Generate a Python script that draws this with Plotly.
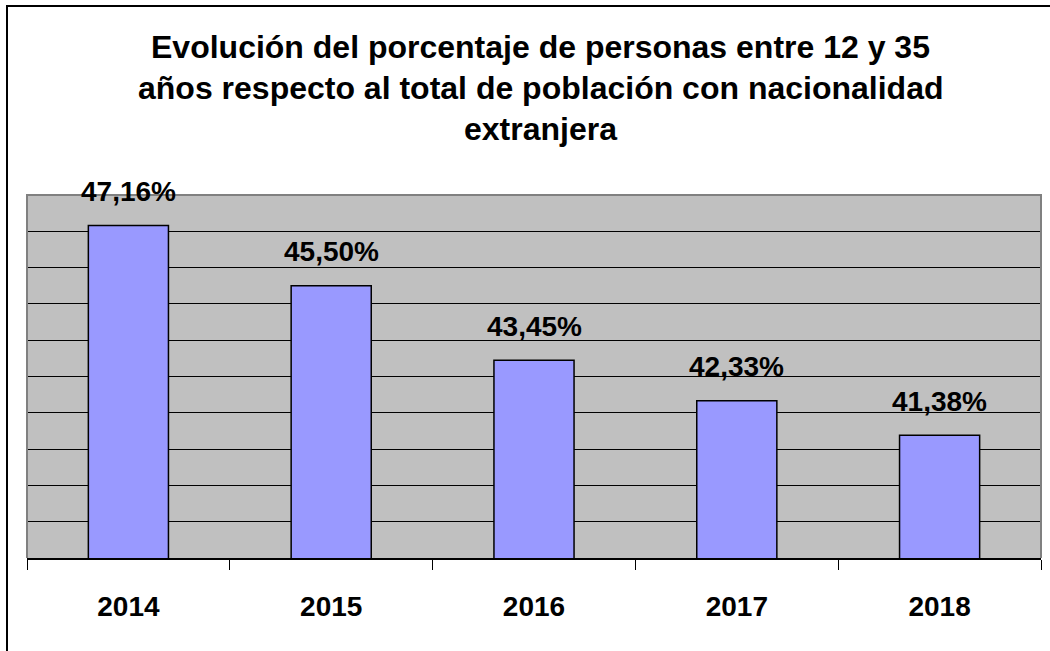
import plotly.graph_objects as go

years = ["2014", "2015", "2016", "2017", "2018"]
values = [47.16, 45.50, 43.45, 42.33, 41.38]
labels = ["47,16%", "45,50%", "43,45%", "42,33%", "41,38%"]
title_lines = [
    "Evolución del porcentaje de personas entre 12 y 35",
    "años respecto al total de población con nacionalidad",
    "extranjera",
]

W, H = 1050, 651
L, R, T, B = 27, 1041, 195, 558  # plot area pixel box
FONT = "Liberation Sans, Arial, sans-serif"


def px_x(px):
    return (px - L) / (R - L)


def px_y(py):
    return (B - py) / (B - T)


fig = go.Figure()
fig.add_trace(go.Bar(
    x=years, y=values, width=0.395,
    marker=dict(color="#9999FF", line=dict(color="#000000", width=1.5)),
    hoverinfo="skip",
))

for i, (v, lab) in enumerate(zip(values, labels)):
    fig.add_annotation(x=i, y=v, xref="x", yref="y", text=lab, showarrow=False,
                       yanchor="middle", yshift=34,
                       font=dict(family=FONT, size=28, color="#000", weight="bold"))

for i, line in enumerate(title_lines):
    fig.add_annotation(xref="paper", yref="paper", x=px_x(540), y=px_y(47 + 41 * i),
                       text=line, showarrow=False, xanchor="center", yanchor="middle",
                       font=dict(family=FONT, size=32, color="#000", weight="bold"))

# plot-area border (left, top, right) in gray
fig.add_shape(type="path", xref="paper", yref="paper",
              path="M 0 0 L 0 1 L 1 1 L 1 0",
              line=dict(color="#808080", width=2), layer="above")
# outer chart border
fig.add_shape(type="rect", xref="paper", yref="paper",
              x0=px_x(7), x1=px_x(1070), y0=px_y(670), y1=px_y(6),
              line=dict(color="#000000", width=2), fillcolor="rgba(0,0,0,0)")

fig.update_layout(
    width=W, height=H,
    margin=dict(l=L, r=W - R, t=T, b=H - B, pad=0),
    paper_bgcolor="#FFFFFF", plot_bgcolor="#C0C0C0",
    showlegend=False, bargap=0.6,
)
fig.update_xaxes(
    type="category", showgrid=False, showline=True, linecolor="#000000", linewidth=1.5,
    ticks="outside", tickson="boundaries", ticklen=10, tickcolor="#000000", tickwidth=1,
    tickfont=dict(family=FONT, size=28, color="#000", weight="bold"),
    ticklabelstandoff=23, range=[-0.5, 4.5],
)
fig.update_yaxes(
    range=[38, 48], dtick=1, tick0=38, showgrid=True, gridcolor="#000000", gridwidth=1,
    showticklabels=False, zeroline=False, showline=False, ticks="",
)

fig.write_html("out.html", config={"displayModeBar": False},
               post_script="document.body.style.margin='0';document.body.style.overflow='hidden';")
